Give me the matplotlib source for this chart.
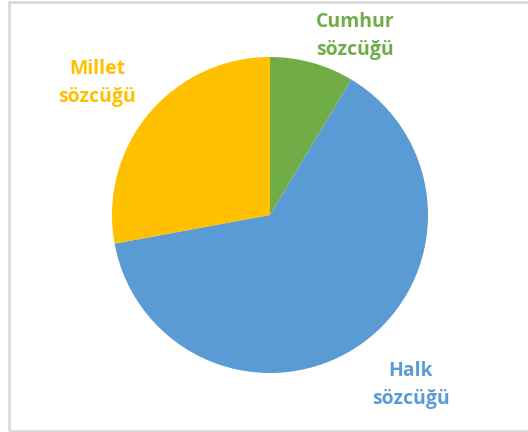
import matplotlib
matplotlib.use("Agg")
import matplotlib.pyplot as plt
from matplotlib.patches import Rectangle

# slice data, clockwise from 12 o'clock
labels = ["Cumhur\nsözcüğü", "Halk\nsözcüğü", "Millet\nsözcüğü"]
shares = [8.6, 63.5, 27.9]
colors = ["#70AD47", "#5B9BD5", "#FFC000"]

W, H, DPI = 528, 432, 96
fig = plt.figure(figsize=(W / DPI, H / DPI), dpi=DPI)
fig.patch.set_facecolor("white")

# pie centre ~(270, 215), radius ~158 px
cx, cy, r = 270, 215, 158
ax = fig.add_axes([(cx - r) / W, 1 - (cy + r) / H, 2 * r / W, 2 * r / H])
ax.pie(shares, colors=colors, startangle=90, counterclock=False,
       wedgeprops=dict(linewidth=0))
ax.set_xlim(-1, 1)
ax.set_ylim(-1, 1)
ax.set_aspect("equal")
ax.axis("off")

# label positions in pixels (x centre, y centre)
label_pos = [(355, 36), (411, 385), (97, 83)]
for lab, col, (px, py) in zip(labels, colors, label_pos):
    fig.text(px / W, 1 - py / H, lab, color=col, ha="center", va="center",
             fontsize=14.5, fontweight="bold", family="Open Sans",
             linespacing=1.55)

# light grey frame (left, top, bottom only visible)
fig.patches.append(Rectangle((9 / W, 1.5 / H), 1.2, 1 - 3 / H,
                             transform=fig.transFigure, fill=False,
                             edgecolor="#D9D9D9", linewidth=2))

fig.savefig("out.png", dpi=DPI)
